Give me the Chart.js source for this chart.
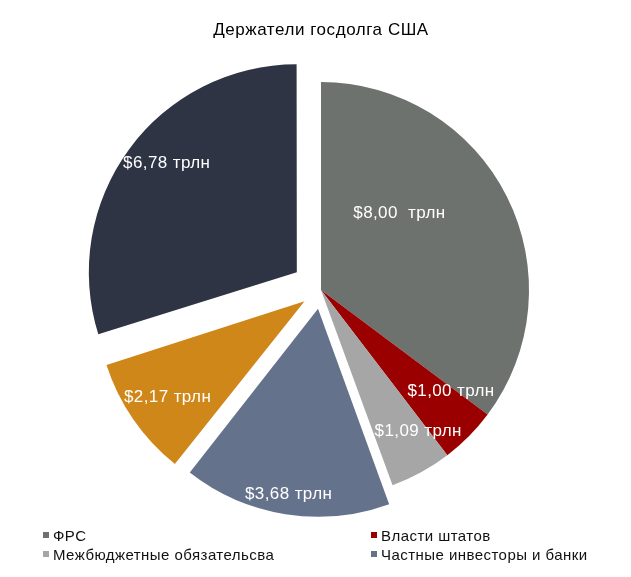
<!DOCTYPE html>
<html>
<head>
<meta charset="utf-8">
<script src="https://cdn.jsdelivr.net/npm/chart.js@4.4.1/dist/chart.umd.min.js"></script>
<style>
  body { margin: 0; background: #fff; }
  #wrap { position: relative; width: 631px; height: 577px; font-family: "Liberation Sans", Arial, sans-serif; }
  #title { position: absolute; left: 0; width: 642px; top: 20px; text-align: center; font-size: 17px; letter-spacing: 0.55px; color: #000; }
  .leg { position: absolute; font-size: 15px; letter-spacing: 0.45px; color: #111; line-height: 18px; white-space: nowrap; }
  .leg i { display: inline-block; width: 6px; height: 6px; margin-right: 4px; vertical-align: 3px; }
</style>
</head>
<body>
<div id="wrap">
  <canvas id="pie" width="631" height="577"></canvas>
  <div id="title">Держатели госдолга США</div>
  <div id="legend"></div>
</div>
<script>
// Держатели госдолга США, трлн $
const holders = ['ФРС', 'Власти штатов', 'Межбюджетные обязательсва', 'Частные инвесторы и банки', 'Пенсионные фонды', 'Иностранные держатели'];
const amounts = [8.00, 1.00, 1.09, 3.68, 2.17, 6.78];
const valueLabels = ['$8,00  трлн', '$1,00 трлн', '$1,09 трлн', '$3,68 трлн', '$2,17 трлн', '$6,78 трлн'];
const colors = ['#6d726e', '#9a0000', '#a6a6a6', '#65728b', '#cf8719', '#2e3444'];

// вынос секторов (px) и положение подписей
const explode = [0, 0, 0, 19, 20, 30];
const labelDist = [0.53, 0.79, 0.82, 0.90, 0.80, 0.82];
const labelShift = [-18, -7, -6, 0, 0, 4];
const legendCount = 4;

const PIE_RADIUS = 208;

// chart.js раздувает радиус вынесенных секторов, возвращаем как в Excel
const radiusFix = {
    id: 'radiusFix',
    beforeDatasetsDraw(chart) {
        const meta = chart.getDatasetMeta(0);
        meta.data.forEach(arc => {
            const off = (arc.options.offset || 0) / 4;
            const fix = 1 - Math.sin(Math.min(Math.PI, arc.circumference));
            arc.outerRadius = PIE_RADIUS - off * fix;
        });
    }
};

const valueLabelPlugin = {
    id: 'valueLabels',
    afterDatasetsDraw(chart) {
        const ctx = chart.ctx;
        const meta = chart.getDatasetMeta(0);
        ctx.save();
        ctx.font = '17px "Liberation Sans", Arial, sans-serif';
        ctx.letterSpacing = '0.4px';
        ctx.fillStyle = '#ffffff';
        ctx.textAlign = 'center';
        ctx.textBaseline = 'middle';
        meta.data.forEach((arc, i) => {
            const mid = (arc.startAngle + arc.endAngle) / 2;
            const cx = arc.x + Math.cos(mid) * explode[i];
            const cy = arc.y + Math.sin(mid) * explode[i];
            const a = mid + labelShift[i] * Math.PI / 180;
            const d = PIE_RADIUS * labelDist[i];
            ctx.fillText(valueLabels[i], cx + Math.cos(a) * d, cy + Math.sin(a) * d + 1);
        });
        ctx.restore();
    }
};

new Chart(document.getElementById('pie'), {
    type: 'pie',
    data: {
        labels: holders,
        datasets: [{
            data: amounts,
            backgroundColor: colors,
            borderWidth: 0,
            offset: explode.map(v => v * 4)
        }]
    },
    options: {
        responsive: false,
        animation: false,
        events: [],
        radius: PIE_RADIUS,
        layout: { padding: { left: 11, right: 0, top: 60, bottom: 57 } },
        plugins: {
            legend: { display: false },
            tooltip: { enabled: false },
            title: { display: false }
        }
    },
    plugins: [radiusFix, valueLabelPlugin]
});

// легенда: две колонки, как в исходнике
const legendEl = document.getElementById('legend');
const colX = [43, 371];
const rowY = [527, 546];
holders.slice(0, legendCount).forEach((name, i) => {
    const item = document.createElement('div');
    item.className = 'leg';
    item.style.left = colX[i % 2] + 'px';
    item.style.top = rowY[Math.floor(i / 2)] + 'px';
    item.innerHTML = '<i style="background:' + colors[i] + '"></i>' + name;
    legendEl.appendChild(item);
});
</script>
</body>
</html>
